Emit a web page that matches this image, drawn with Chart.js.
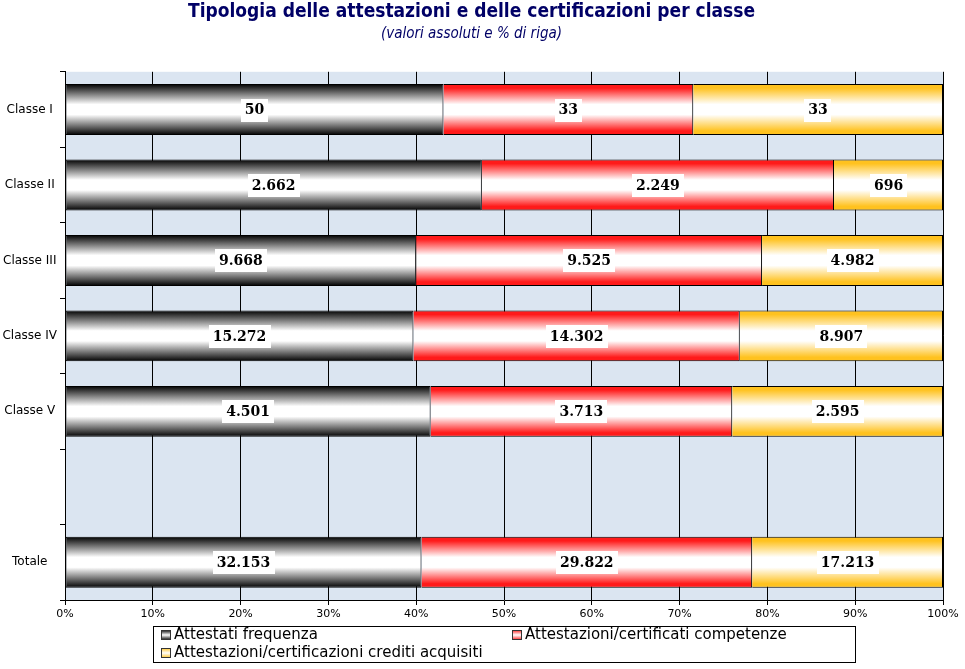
<!DOCTYPE html>
<html>
<head>
<meta charset="utf-8">
<script src="https://cdn.jsdelivr.net/npm/chart.js@4.4.0/dist/chart.umd.min.js"></script>
<style>
html, body { margin: 0; padding: 0; background: #fff; }
#wrap { width: 965px; height: 669px; }
</style>
</head>
<body>
<div id="wrap"><canvas id="chart"></canvas></div>
<script>
const categories = ['Classe I', 'Classe II', 'Classe III', 'Classe IV', 'Classe V', '', 'Totale'];
const frequenza = [50, 2662, 9668, 15272, 4501, null, 32153];
const competenze = [33, 2249, 9525, 14302, 3713, null, 29822];
const crediti = [33, 696, 4982, 8907, 2595, null, 17213];
const seriesNames = ['Attestati frequenza', 'Attestazioni/certificati competenze', 'Attestazioni/certificazioni crediti acquisiti'];
const seriesColors = ['#000000', '#ff1a1a', '#ffc21f'];

// row percentages (the chart is 100% stacked, labels show absolute values)
const rowTotals = categories.map((c, i) => frequenza[i] == null ? null : frequenza[i] + competenze[i] + crediti[i]);
const pct = arr => arr.map((v, i) => v == null ? null : v / rowTotals[i] * 100);
const fmt = v => String(v).replace(/\B(?=(\d{3})+(?!\d))/g, '.');

const BAR_PART = 0.675;

function barFill(color) {
  return function (ctx) {
    const chart = ctx.chart;
    const y = chart.scales.y;
    if (!chart.chartArea || !y || ctx.type !== 'data') return color;
    const half = y.height / categories.length * BAR_PART / 2;
    const c = y.getPixelForValue(ctx.dataIndex);
    const g = chart.ctx.createLinearGradient(0, c - half, 0, c + half);
    const edge = color === '#000000' ? '#333' : color;
    g.addColorStop(0, color);
    g.addColorStop(0.08, edge);
    g.addColorStop(0.4, '#fff');
    g.addColorStop(0.6, '#fff');
    g.addColorStop(0.92, edge);
    g.addColorStop(1, color);
    return g;
  };
}

const plotBg = {
  id: 'plotBg',
  beforeDraw(chart) {
    const a = chart.chartArea;
    chart.ctx.save();
    chart.ctx.fillStyle = '#dbe5f1';
    chart.ctx.fillRect(a.left, a.top, a.right - a.left, a.bottom - a.top);
    chart.ctx.restore();
  }
};

const valueLabels = {
  id: 'valueLabels',
  afterDatasetsDraw(chart) {
    const ctx = chart.ctx;
    ctx.save();
    ctx.font = 'bold 14px "DejaVu Serif", serif';
    ctx.textAlign = 'center';
    ctx.textBaseline = 'middle';
    const raws = [frequenza, competenze, crediti];
    chart.data.datasets.forEach((ds, di) => {
      chart.getDatasetMeta(di).data.forEach((bar, i) => {
        const v = raws[di][i];
        if (v == null) return;
        const p = bar.getProps(['x', 'y', 'base'], true);
        const cx = (p.x + p.base) / 2;
        const t = fmt(v);
        const w = ctx.measureText(t).width + 8;
        ctx.fillStyle = '#fff';
        ctx.fillRect(Math.round(cx - w / 2), Math.round(p.y - 11), Math.round(w), 23);
        ctx.fillStyle = '#000';
        ctx.fillText(t, cx, p.y + 1);
      });
    });
    ctx.restore();
  }
};

const boxLegend = {
  id: 'boxLegend',
  afterDraw(chart) {
    const ctx = chart.ctx;
    ctx.save();
    ctx.strokeStyle = '#000';
    ctx.lineWidth = 1;
    ctx.strokeRect(153.5, 626.5, 702, 36);
    ctx.font = '15px "DejaVu Sans", sans-serif';
    ctx.textBaseline = 'middle';
    ctx.textAlign = 'left';
    const pos = [[161, 635], [512, 635], [161, 653]];
    seriesNames.forEach((n, i) => {
      const [x, y] = pos[i];
      const g = ctx.createLinearGradient(0, y - 5, 0, y + 5);
      g.addColorStop(0, seriesColors[i]);
      g.addColorStop(0.5, '#fff');
      g.addColorStop(1, seriesColors[i]);
      ctx.fillStyle = g;
      ctx.fillRect(x, y - 5, 10, 10);
      ctx.strokeStyle = '#333';
      ctx.strokeRect(x + 0.5, y - 4.5, 9, 9);
      ctx.fillStyle = '#000';
      ctx.fillText(n, x + 13, y);
    });
    ctx.restore();
  }
};

const data = {
  labels: categories,
  datasets: [
    { label: seriesNames[0], data: pct(frequenza), backgroundColor: barFill(seriesColors[0]), borderSkipped: false },
    { label: seriesNames[1], data: pct(competenze), backgroundColor: barFill(seriesColors[1]), borderSkipped: 'start' },
    { label: seriesNames[2], data: pct(crediti), backgroundColor: barFill(seriesColors[2]), borderSkipped: 'start' }
  ]
};

new Chart(document.getElementById('chart'), {
  type: 'bar',
  data: data,
  options: {
    indexAxis: 'y',
    responsive: true,
    maintainAspectRatio: false,
    animation: false,
    datasets: {
      bar: { barPercentage: 1, categoryPercentage: BAR_PART, borderWidth: 1, borderColor: '#000' }
    },
    layout: { padding: { left: 0, right: 22, top: 0, bottom: 0 } },
    plugins: {
      legend: { display: false },
      tooltip: { enabled: false },
      title: {
        display: true,
        text: 'Tipologia delle attestazioni e delle certificazioni per classe',
        color: '#000066',
        font: { family: "'Liberation Sans Narrow', 'DejaVu Sans Condensed', sans-serif", size: 19, weight: 'bold', lineHeight: 1.2 },
        padding: { top: 1, bottom: 3 }
      },
      subtitle: {
        display: true,
        text: '(valori assoluti e % di riga)',
        color: '#000066',
        font: { family: "'Liberation Sans Narrow', 'DejaVu Sans Condensed', sans-serif", size: 15, style: 'italic', lineHeight: 1.0 },
        padding: { top: 0, bottom: 30 }
      }
    },
    scales: {
      x: {
        stacked: true,
        min: 0,
        max: 100,
        ticks: { stepSize: 10, callback: v => v + '%', color: '#000', font: { family: 'DejaVu Sans', size: 11 }, padding: 3 },
        grid: { color: '#000', tickLength: 5 },
        border: { color: '#000' },
        afterFit: s => { s.height = 69; }
      },
      y: {
        stacked: true,
        ticks: { color: '#000', font: { family: 'DejaVu Sans', size: 12 }, crossAlign: 'center', padding: 3 },
        grid: { offset: true, drawOnChartArea: false, color: '#000', tickLength: 5 },
        border: { color: '#000' },
        afterFit: s => { s.width = 65; }
      }
    }
  },
  plugins: [plotBg, valueLabels, boxLegend]
});
</script>
</body>
</html>
